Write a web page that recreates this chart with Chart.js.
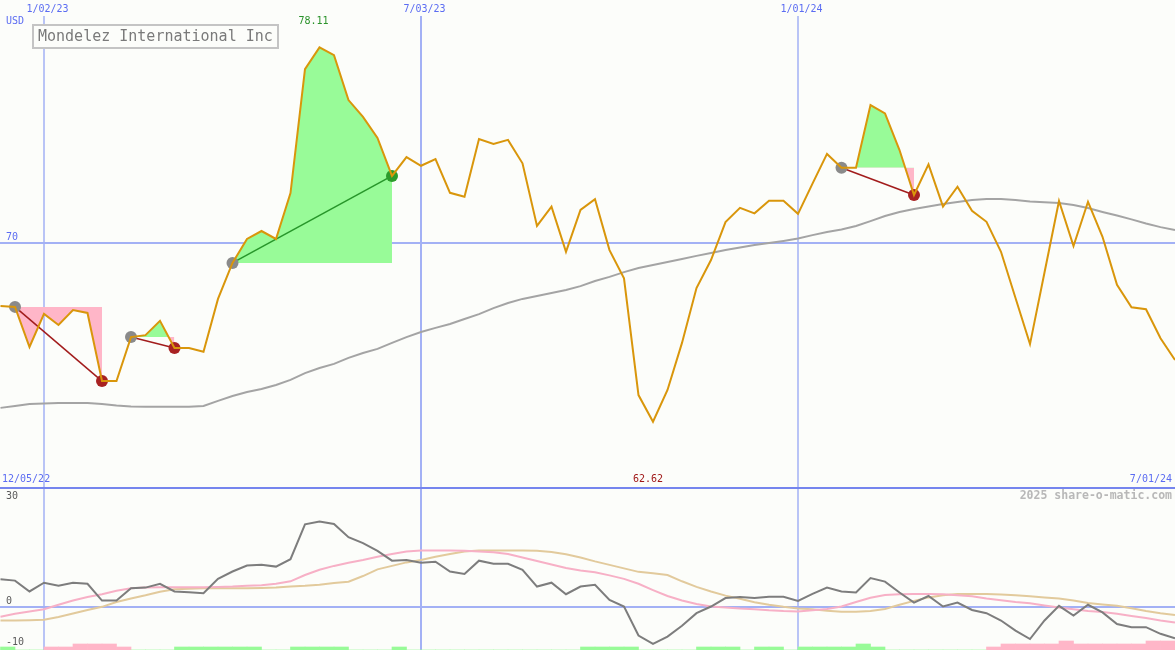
<!DOCTYPE html>
<html>
<head>
<meta charset="utf-8">
<title>Mondelez International Inc</title>
<script src="https://cdn.jsdelivr.net/npm/chart.js@4.4.1/dist/chart.umd.min.js"></script>
<style>
  html, body { margin: 0; padding: 0; background: #fcfdfa; }
  #wrap { position: relative; width: 1175px; height: 650px; }
</style>
</head>
<body>
<div id="wrap"><canvas id="chart" width="1175" height="650"></canvas></div>
<script>
// weekly closes, week 0 = 1/02/23, first point is week -3
const firstWeek = -3;
const price = [
  67.41, 67.37, 65.71, 67.08, 66.62, 67.24, 67.12, 64.30, 64.30, 66.12,
  66.20, 66.79, 65.67, 65.67, 65.51, 67.70, 69.19, 70.18, 70.51, 70.18,
  72.08, 77.21, 78.11, 77.79, 75.93, 75.23, 74.36, 72.79, 73.57, 73.21,
  73.49, 72.09, 71.93, 74.32, 74.11, 74.28, 73.31, 70.72, 71.52, 69.65,
  71.38, 71.83, 69.72, 68.55, 63.72, 62.62, 63.93, 65.88, 68.15, 69.31,
  70.88, 71.47, 71.24, 71.76, 71.76, 71.22, 72.47, 73.70, 73.13, 73.13,
  75.72, 75.38, 73.86, 72.00, 73.27, 71.52, 72.34, 71.35, 70.89, 69.65,
  67.74, 65.83, 68.79, 71.75, 69.89, 71.72, 70.27, 68.28, 67.35, 67.27,
  66.07, 65.17
];
const avgLine = [
  63.19, 63.27, 63.35, 63.37, 63.39, 63.39, 63.39, 63.35, 63.29, 63.25,
  63.24, 63.24, 63.24, 63.24, 63.27, 63.48, 63.68, 63.85, 63.97, 64.14,
  64.35, 64.63, 64.84, 65.01, 65.26, 65.46, 65.63, 65.88, 66.12, 66.33,
  66.50, 66.66, 66.87, 67.07, 67.32, 67.53, 67.70, 67.82, 67.94, 68.07,
  68.23, 68.44, 68.61, 68.81, 68.98, 69.10, 69.23, 69.35, 69.48, 69.60,
  69.72, 69.83, 69.93, 70.01, 70.10, 70.20, 70.34, 70.47, 70.57, 70.72,
  70.92, 71.13, 71.30, 71.42, 71.52, 71.63, 71.71, 71.79, 71.83, 71.83,
  71.79, 71.73, 71.70, 71.67, 71.59, 71.46, 71.30, 71.15, 70.99, 70.82,
  70.67, 70.55
];
const oscMain = [
  8.0, 7.6, 4.5, 7.0, 6.1, 7.0, 6.7, 1.9, 1.9, 5.4,
  5.6, 6.7, 4.5, 4.3, 4.0, 8.1, 10.2, 11.9, 12.1, 11.6,
  13.7, 23.7, 24.5, 23.8, 20.0, 18.3, 16.1, 13.3, 13.5, 12.7,
  13.0, 10.2, 9.5, 13.3, 12.4, 12.4, 10.7, 5.9, 7.0, 3.7,
  5.9, 6.4, 2.1, 0.2, -8.1, -10.5, -8.4, -5.3, -1.7, 0.2,
  2.6, 2.9, 2.6, 3.0, 3.0, 1.8, 3.8, 5.6, 4.5, 4.2,
  8.3, 7.3, 4.2, 1.3, 3.2, 0.2, 1.3, -0.8, -1.7, -3.8,
  -6.7, -9.1, -3.8, 0.4, -2.4, 0.7, -1.5, -4.8, -5.7, -5.7,
  -7.6, -8.9
];
const oscFast = [
  -2.7, -1.9, -1.2, -0.6, 0.7, 1.9, 2.9, 3.7, 4.7, 5.4,
  5.6, 5.7, 5.7, 5.7, 5.7, 5.8, 5.9, 6.1, 6.3, 6.7,
  7.4, 9.2, 10.7, 11.8, 12.7, 13.5, 14.4, 15.2, 15.9, 16.2,
  16.2, 16.2, 16.1, 15.9, 15.7, 15.2, 14.2, 13.2, 12.2, 11.2,
  10.5, 10.0, 9.1, 8.1, 6.7, 4.9, 3.2, 1.9, 0.9, 0.2,
  -0.1, -0.4, -0.6, -0.9, -1.1, -1.2, -0.9, -0.5, 0.2, 1.5,
  2.7, 3.5, 3.7, 3.8, 3.8, 3.7, 3.4, 3.1, 2.5, 2.0,
  1.5, 1.1, 0.5, -0.1, -0.6, -1.1, -1.4, -1.9, -2.5, -3.1,
  -3.8, -4.4
];
const oscSlow = [
  -3.8, -3.8, -3.7, -3.6, -2.8, -1.8, -0.8, 0.1, 1.5, 2.5,
  3.4, 4.4, 5.1, 5.3, 5.4, 5.4, 5.4, 5.4, 5.5, 5.6,
  5.9, 6.1, 6.4, 6.9, 7.3, 8.9, 10.8, 11.8, 12.8, 13.5,
  14.4, 15.2, 15.9, 16.2, 16.2, 16.2, 16.2, 16.1, 15.8, 15.1,
  14.2, 13.1, 12.1, 11.1, 10.1, 9.7, 9.2, 7.4, 5.8, 4.5,
  3.3, 2.4, 1.4, 0.7, 0.1, -0.4, -0.6, -1.0, -1.3, -1.3,
  -1.1, -0.5, 0.7, 1.8, 2.8, 3.4, 3.8, 3.8, 3.8, 3.6,
  3.4, 3.1, 2.8, 2.5, 1.9, 1.2, 0.8, 0.4, -0.3, -1.1,
  -1.7, -2.2
];
// signal strength per week (+ green, - pink)
const signal = [
  1, 0, 0, -1, -1, -2, -2, -2, -1, 0,
  0, 0, 1, 1, 1, 1, 1, 1, 0, 0,
  1, 1, 1, 1, 0, 0, 0, 1, 0, 0,
  0, 0, 0, 0, 0, 0, 0, 0, 0, 0,
  1, 1, 1, 1, 0, 0, 0, 0, 1, 1,
  1, 0, 1, 1, 0, 1, 1, 1, 1, 2,
  1, 0, 0, 0, 0, 0, 0, 0, -1, -2,
  -2, -2, -2, -3, -2, -2, -2, -2, -2, -3,
  -3, 0
];
const tradeEntry = [-2, 6, 13, 55];
const tradeExit = [4, 9, 24, 60];
const dateTicks = ['1/02/23', '7/03/23', '1/01/24'];
const dateTickWeeks = [0, 26, 52];
const rangeLabels = ['12/05/22', '7/01/24'];
const oscTicks = [30, 0, -10];
const priceTick = 70;

const GREEN = '#98fb98';
const PINK = '#ffb6c8';
const BLUE = '#a3b1f5';
const TEXTBLUE = '#5b6cf2';
const MONO = '"DejaVu Sans Mono", monospace';

const weeks = price.map((_, i) => firstWeek + i);
const pts = arr => arr.map((v, i) => ({ x: weeks[i], y: v }));
const idx = w => w - firstWeek;

const datasets = [
  {
    label: 'price', data: pts(price), yAxisID: 'y', order: 1,
    borderColor: '#d9960b', borderWidth: 2, pointRadius: 0, fill: false
  },
  {
    label: 'avg', data: pts(avgLine), yAxisID: 'y', order: 4,
    borderColor: '#a4a4a4', borderWidth: 2, pointRadius: 0, fill: false
  },
  {
    label: 'osc', data: pts(oscMain), yAxisID: 'yo', order: 6,
    borderColor: '#7d7d7d', borderWidth: 2, pointRadius: 0, fill: false
  },
  {
    label: 'fast', data: pts(oscFast), yAxisID: 'yo', order: 7,
    borderColor: '#f7b0c6', borderWidth: 2, pointRadius: 0, fill: false
  },
  {
    label: 'slow', data: pts(oscSlow), yAxisID: 'yo', order: 8,
    borderColor: '#e2ca9c', borderWidth: 2, pointRadius: 0, fill: false
  },
  {
    type: 'bar', label: 'signal', yAxisID: 'yh', order: 9,
    data: signal.map((v, i) => ({ x: weeks[i] + 0.5, y: Math.abs(v) })),
    backgroundColor: signal.map(v => v >= 0 ? GREEN : PINK),
    borderWidth: 0, barPercentage: 1, categoryPercentage: 1
  }
];

tradeEntry.forEach((e, t) => {
  const x = tradeExit[t];
  const win = price[idx(x)] > price[idx(e)];
  datasets.push({
    label: 'area' + t, yAxisID: 'y', order: 5,
    data: pts(price).slice(idx(e), idx(x) + 1),
    borderWidth: 0, pointRadius: 0,
    fill: { target: { value: price[idx(e)] }, above: GREEN, below: PINK }
  });
  datasets.push({
    label: 'trade' + t, yAxisID: 'y', order: 2,
    data: [{ x: e, y: price[idx(e)] }, { x: x, y: price[idx(x)] }],
    borderColor: win ? '#27962a' : '#a21c1c', borderWidth: 1.5,
    pointRadius: 6, pointBorderWidth: 0,
    pointBackgroundColor: ['#8a8a8a', win ? '#2c9c2c' : '#a82222'],
    fill: false
  });
});

const overlay = {
  id: 'overlay',
  beforeDatasetsDraw(chart) {
    const { ctx, scales } = chart;
    const xs = scales.x, ys = scales.y, yo = scales.yo;
    ctx.save();
    ctx.strokeStyle = BLUE;
    dateTickWeeks.forEach((w, i) => {
      const px = Math.round(xs.getPixelForValue(w));
      const wide = i === 1;
      ctx.lineWidth = wide ? 2 : 1.5;
      ctx.beginPath();
      ctx.moveTo(px, 16);
      ctx.lineTo(px, 650);
      ctx.stroke();
    });
    ctx.lineWidth = 2;
    const py = Math.round(ys.getPixelForValue(priceTick));
    ctx.beginPath(); ctx.moveTo(0, py); ctx.lineTo(1175, py); ctx.stroke();
    const oy = Math.round(yo.getPixelForValue(0));
    ctx.beginPath(); ctx.moveTo(0, oy); ctx.lineTo(1175, oy); ctx.stroke();
    ctx.strokeStyle = '#7585ee';
    ctx.beginPath(); ctx.moveTo(0, 488); ctx.lineTo(1175, 488); ctx.stroke();
    ctx.restore();
  },
  afterDatasetsDraw(chart) {
    const { ctx, scales } = chart;
    const xs = scales.x, ys = scales.y, yo = scales.yo;
    ctx.save();
    ctx.textBaseline = 'middle';
    ctx.font = '10px ' + MONO;
    ctx.fillStyle = TEXTBLUE;
    ctx.textAlign = 'center';
    dateTickWeeks.forEach((w, i) => {
      ctx.fillText(dateTicks[i], xs.getPixelForValue(w) + 3.5, 9.5);
    });
    ctx.textAlign = 'left';
    ctx.fillText('USD', 6, 21);
    ctx.fillText(String(priceTick), 6, ys.getPixelForValue(priceTick) - 5.5);
    ctx.fillText(rangeLabels[0], 2, 479);
    ctx.textAlign = 'right';
    ctx.fillText(rangeLabels[1], 1172, 479);

    const hi = Math.max(...price), lo = Math.min(...price);
    ctx.textAlign = 'center';
    ctx.fillStyle = '#2a922a';
    ctx.fillText(hi.toFixed(2), xs.getPixelForValue(weeks[price.indexOf(hi)]) - 6, 21);
    ctx.fillStyle = '#a01818';
    ctx.fillText(lo.toFixed(2), xs.getPixelForValue(weeks[price.indexOf(lo)]) - 5, 479);

    ctx.textAlign = 'left';
    ctx.fillStyle = '#5a5a5a';
    oscTicks.forEach(v => {
      const ly = v < 0 ? yo.getPixelForValue(v) : yo.getPixelForValue(v) - 6;
      ctx.fillText(String(v), 6, ly);
    });

    ctx.textAlign = 'right';
    ctx.fillStyle = '#b8b8b8';
    ctx.font = 'bold 11.5px ' + MONO;
    ctx.fillText('2025 share-o-matic.com', 1172, 496);

    // title box
    ctx.fillStyle = '#fcfdfa';
    ctx.fillRect(33, 25, 245, 23);
    ctx.strokeStyle = '#c4c4c4';
    ctx.lineWidth = 2;
    ctx.strokeRect(33, 25, 245, 23);
    ctx.fillStyle = '#7a7a7a';
    ctx.textAlign = 'left';
    ctx.font = '15px ' + MONO;
    ctx.fillText('Mondelez International Inc', 38, 37);
    ctx.restore();
  }
};

new Chart(document.getElementById('chart').getContext('2d'), {
  type: 'line',
  data: { datasets: datasets },
  options: {
    responsive: false,
    animation: false,
    devicePixelRatio: 1,
    layout: { padding: 0, autoPadding: false },
    elements: { line: { tension: 0 } },
    plugins: { legend: { display: false }, tooltip: { enabled: false } },
    scales: {
      x: { type: 'linear', min: -3.034, max: 78, offset: false, display: false },
      y: { min: 53.17, max: 80.07, display: false },
      yo: { min: -12.23, max: 173.5, display: false },
      yh: { min: 0, max: 216.7, display: false }
    }
  },
  plugins: [overlay]
});
</script>
</body>
</html>
